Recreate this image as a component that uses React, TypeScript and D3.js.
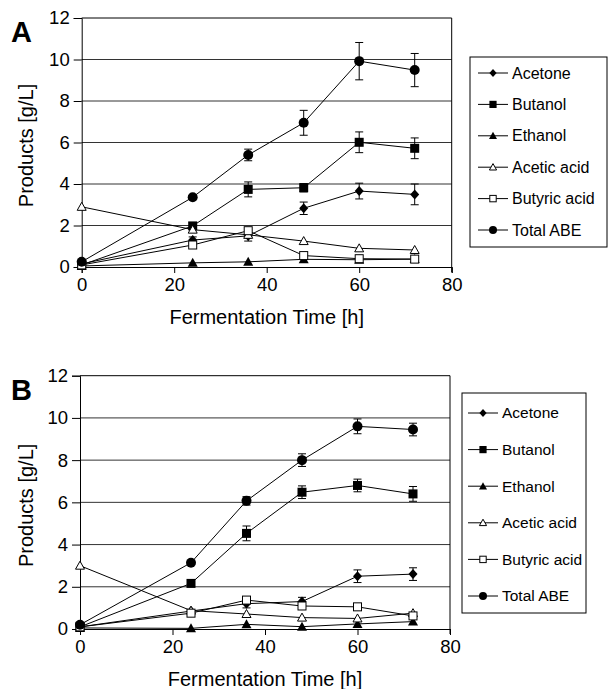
import * as d3 from 'd3'
import { useEffect, useRef } from 'react'

const times = [0, 24, 36, 48, 60, 72]
const seriesNames = ['Acetone', 'Butanol', 'Ethanol', 'Acetic acid', 'Butyric acid', 'Total ABE']
const xTicks = [0, 20, 40, 60, 80]
const yTicks = [0, 2, 4, 6, 8, 10, 12]

// panel A
const acetoneA = [0.15, 1.3, 1.5, 2.83, 3.66, 3.5]
const acetoneAErr = [0.05, 0.15, 0.25, 0.3, 0.38, 0.5]
const butanolA = [0.1, 1.98, 3.74, 3.82, 6.01, 5.72]
const butanolAErr = [0.05, 0.15, 0.36, 0.2, 0.5, 0.5]
const ethanolA = [0.05, 0.2, 0.25, 0.37, 0.35, 0.38]
const aceticA = [2.9, 1.8, 1.55, 1.25, 0.9, 0.82]
const butyricA = [0.1, 1.06, 1.75, 0.55, 0.4, 0.38]
const totalA = [0.25, 3.36, 5.4, 6.95, 9.92, 9.49]
const totalAErr = [0.05, 0.1, 0.28, 0.6, 0.9, 0.8]

// panel B
const acetoneB = [0.1, 0.85, 1.2, 1.3, 2.5, 2.6]
const acetoneBErr = [0.05, 0.1, 0.2, 0.2, 0.3, 0.3]
const butanolB = [0.1, 2.16, 4.53, 6.48, 6.8, 6.4]
const butanolBErr = [0.05, 0.1, 0.35, 0.3, 0.3, 0.35]
const ethanolB = [0.05, 0.03, 0.22, 0.11, 0.24, 0.35]
const aceticB = [3.0, 0.87, 0.71, 0.54, 0.5, 0.75]
const butyricB = [0.1, 0.75, 1.37, 1.09, 1.05, 0.62]
const totalB = [0.2, 3.14, 6.07, 8.0, 9.6, 9.45]
const totalBErr = [0.05, 0.1, 0.2, 0.3, 0.35, 0.3]

type Panel = {
  label: string
  left: number
  right: number
  top: number
  bottom: number
  values: number[][]
  errors: (number[] | null)[]
  legend: { x0: number; y0: number; x1: number; y1: number; rowY: number; rowStep: number; lineX: number; fontSize: number }
}

const panels: Panel[] = [
  {
    label: 'A',
    left: 81.7,
    right: 451.7,
    top: 18,
    bottom: 267,
    values: [acetoneA, butanolA, ethanolA, aceticA, butyricA, totalA],
    errors: [acetoneAErr, butanolAErr, null, null, null, totalAErr],
    legend: { x0: 470, y0: 57, x1: 607, y1: 247, rowY: 73, rowStep: 31.4, lineX: 478, fontSize: 16 },
  },
  {
    label: 'B',
    left: 80,
    right: 450,
    top: 375.7,
    bottom: 629,
    values: [acetoneB, butanolB, ethanolB, aceticB, butyricB, totalB],
    errors: [acetoneBErr, butanolBErr, null, null, null, totalBErr],
    legend: { x0: 462, y0: 393, x1: 586, y1: 613, rowY: 413, rowStep: 36.6, lineX: 468, fontSize: 15.5 },
  },
]

const font = 'Arial, "Liberation Sans", sans-serif'

function drawMarker(g: d3.Selection<SVGGElement, unknown, null, undefined>, kind: number, x: number, y: number, s = 1) {
  if (kind === 0) {
    g.append('path')
      .attr('d', `M${x},${y - 5 * s}L${x + 4.5 * s},${y}L${x},${y + 5 * s}L${x - 4.5 * s},${y}Z`)
      .attr('fill', '#000')
  } else if (kind === 1) {
    g.append('rect').attr('x', x - 4.5 * s).attr('y', y - 4.5 * s).attr('width', 9 * s).attr('height', 9 * s).attr('fill', '#000')
  } else if (kind === 2) {
    g.append('path')
      .attr('d', `M${x},${y - 5 * s}L${x + 5 * s},${y + 4 * s}L${x - 5 * s},${y + 4 * s}Z`)
      .attr('fill', '#000')
  } else if (kind === 3) {
    g.append('path')
      .attr('d', `M${x},${y - 4.5 * s}L${x + 4.5 * s},${y + 3.5 * s}L${x - 4.5 * s},${y + 3.5 * s}Z`)
      .attr('fill', '#fff')
      .attr('stroke', '#000')
      .attr('stroke-width', 1)
  } else if (kind === 4) {
    g.append('rect').attr('x', x - 4 * s).attr('y', y - 4 * s).attr('width', 8 * s).attr('height', 8 * s)
      .attr('fill', '#fff').attr('stroke', '#000').attr('stroke-width', 1)
  } else {
    g.append('circle').attr('cx', x).attr('cy', y).attr('r', 5 * s).attr('fill', '#000')
  }
}

export default function App() {
  const ref = useRef<SVGSVGElement | null>(null)

  useEffect(() => {
    const svg = d3.select(ref.current!)
    svg.selectAll('*').remove()

    panels.forEach((p) => {
      const x = d3.scaleLinear().domain([0, 80]).range([p.left, p.right])
      const y = d3.scaleLinear().domain([0, 12]).range([p.bottom, p.top])
      const g = svg.append('g')

      // gridlines
      g.append('g')
        .selectAll('line')
        .data(yTicks.filter((t) => t > 0))
        .join('line')
        .attr('x1', p.left)
        .attr('x2', p.right)
        .attr('y1', (d) => y(d))
        .attr('y2', (d) => y(d))
        .attr('stroke', (d) => (d === 12 ? '#000' : '#333'))
        .attr('stroke-width', 1)

      // right border
      g.append('line')
        .attr('x1', p.right).attr('x2', p.right)
        .attr('y1', p.top).attr('y2', p.bottom + 5)
        .attr('stroke', '#000')

      // axes
      const yAxis = g.append('g')
        .attr('transform', `translate(${p.left},0)`)
        .call(d3.axisLeft(y).tickValues(yTicks).tickSize(8).tickPadding(4))
      yAxis.selectAll('text').attr('font-size', 18.5).attr('font-family', font).attr('fill', '#000')
      yAxis.selectAll('line, path').attr('stroke', '#000')

      const xAxis = g.append('g')
        .attr('transform', `translate(0,${p.bottom})`)
        .call(d3.axisBottom(x).tickValues(xTicks).tickSize(6).tickPadding(5))
      xAxis.selectAll('text').attr('font-size', 18.5).attr('font-family', font).attr('fill', '#000')
      xAxis.selectAll('line, path').attr('stroke', '#000')

      // axis titles
      g.append('text')
        .attr('x', (p.left + p.right) / 2)
        .attr('y', p.bottom + 57)
        .attr('text-anchor', 'middle')
        .attr('font-size', 20)
        .attr('font-family', font)
        .text('Fermentation Time [h]')

      g.append('text')
        .attr('transform', `translate(33,${(p.top + p.bottom) / 2 + 3}) rotate(-90)`)
        .attr('text-anchor', 'middle')
        .attr('font-size', 20)
        .attr('font-family', font)
        .text('Products [g/L]')

      g.append('text')
        .attr('x', 11)
        .attr('y', p.top + 24)
        .attr('font-size', 29)
        .attr('font-weight', 'bold')
        .attr('font-family', font)
        .text(p.label)

      // series
      const line = d3.line<number>().x((_, i) => x(times[i])).y((d) => y(d))
      p.values.forEach((vals) => {
        g.append('path').attr('d', line(vals)).attr('fill', 'none').attr('stroke', '#000').attr('stroke-width', 1)
      })
      p.errors.forEach((errs, k) => {
        if (!errs) return
        errs.forEach((e, i) => {
          if (e < 0.12) return
          const cx = x(times[i])
          const v = p.values[k][i]
          const eg = g.append('g').attr('stroke', '#000').attr('stroke-width', 1)
          eg.append('line').attr('x1', cx).attr('x2', cx).attr('y1', y(v - e)).attr('y2', y(v + e))
          eg.append('line').attr('x1', cx - 4).attr('x2', cx + 4).attr('y1', y(v - e)).attr('y2', y(v - e))
          eg.append('line').attr('x1', cx - 4).attr('x2', cx + 4).attr('y1', y(v + e)).attr('y2', y(v + e))
        })
      })
      const mg = g.append('g')
      p.values.forEach((vals, k) => {
        vals.forEach((v, i) => drawMarker(mg, k, x(times[i]), y(v)))
      })

      // legend
      const L = p.legend
      const lg = g.append('g')
      lg.append('rect')
        .attr('x', L.x0).attr('y', L.y0).attr('width', L.x1 - L.x0).attr('height', L.y1 - L.y0)
        .attr('fill', '#fff').attr('stroke', '#000').attr('stroke-width', 1)
      seriesNames.forEach((name, k) => {
        const ry = L.rowY + k * L.rowStep
        lg.append('line').attr('x1', L.lineX).attr('x2', L.lineX + 30).attr('y1', ry).attr('y2', ry).attr('stroke', '#000')
        drawMarker(lg, k, L.lineX + 15, ry, 0.8)
        lg.append('text')
          .attr('x', L.lineX + 34)
          .attr('y', ry)
          .attr('dy', '0.35em')
          .attr('font-size', L.fontSize)
          .attr('font-family', font)
          .text(name)
      })
    })
  }, [])

  return (
    <div style={{ position: 'absolute', left: 0, top: 0 }}>
      <svg ref={ref} width={608} height={689} style={{ display: 'block', background: '#fff' }} />
    </div>
  )
}
